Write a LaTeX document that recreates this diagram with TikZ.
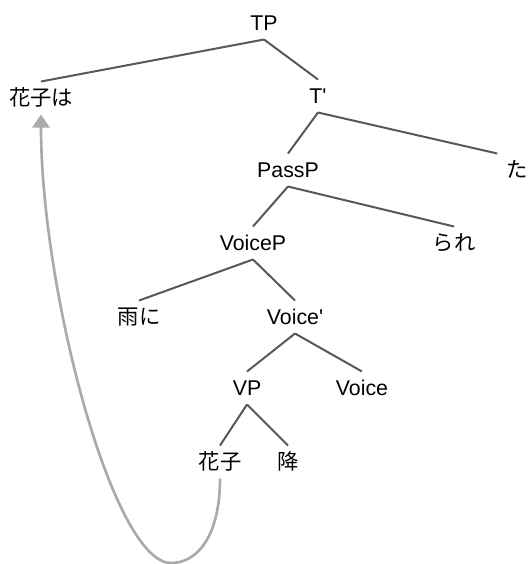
\documentclass[tikz,border=0pt]{standalone}
\usepackage{fontspec}
\setmainfont{Liberation Sans}
\newfontfamily\jp{Noto Sans CJK JP}
\usetikzlibrary{arrows.meta}

\definecolor{branchgray}{RGB}{88,88,88}
\definecolor{movegray}{RGB}{170,170,170}

\tikzset{every picture/.style={line width=0.75pt}}
\tikzset{
  lbl/.style={inner sep=6.5pt, text height=11pt, text depth=0pt, font=\fontsize{16pt}{19pt}\selectfont},
  branch/.style={draw=branchgray, line width=1.5pt},
  move/.style={draw=movegray, line width=2pt, -{Triangle[width=12.75pt,length=9.75pt]}}
}

\begin{document}
\begin{tikzpicture}[x=0.75pt,y=0.75pt,yscale=-1,xscale=1]
        \useasboundingbox (0,0) rectangle (528,564);

        % Text Node
        \node [lbl] (tp) at (264,23) {TP};
        % Text Node
        \node [lbl] (hanakowa) at (41,98) {\jp 花子は};
        % Text Node
        \node [lbl] (tbar) at (318,96) {T\textquotesingle};
        % Text Node
        \node [lbl] (passp) at (288,170) {PassP};
        % Text Node
        \node [lbl] (ta) at (517,170) {\jp た};
        % Text Node
        \node [lbl] (voicep) at (253,243) {VoiceP};
        % Text Node
        \node [lbl] (rare) at (454,243) {\jp られ};
        % Text Node
        \node [lbl] (ameni) at (139,317) {\jp 雨に};
        % Text Node
        \node [lbl] (voicebar) at (295,317) {Voice\textquotesingle};
        % Text Node
        \node [lbl] (vp) at (247,388) {VP};
        % Text Node
        \node [lbl] (voice) at (362,388) {Voice};
        % Text Node
        \node [lbl] (hanako) at (220,462) {\jp 花子};
        % Text Node
        \node [lbl] (fur) at (288,462) {\jp 降};

        %Straight Lines
        \draw [branch] (tp.south) -- (hanakowa.north) ;
        \draw [branch] (tp.south) -- (tbar.north) ;
        \draw [branch] (tbar.south) -- (passp.north) ;
        \draw [branch] (tbar.south) -- (ta.north west) ;
        \draw [branch] (passp.south) -- (voicep.north) ;
        \draw [branch] (passp.south) -- (rare.north) ;
        \draw [branch] (voicep.south) -- (ameni.north) ;
        \draw [branch] (voicep.south) -- (voicebar.north) ;
        \draw [branch] (voicebar.south) -- (vp.north) ;
        \draw [branch] (voicebar.south) -- (voice.north) ;
        \draw [branch] (vp.south) -- (hanako.north) ;
        \draw [branch] (vp.south) -- (fur.north) ;

        %Curve Lines
        \coordinate (low) at (171,563) ;
        \draw [move] (hanako.south) .. controls +(0,58) and +(26,0) .. (low) .. controls +(-58,0) and +(0,175) .. (hanakowa.south) ;

\end{tikzpicture}
\end{document}
